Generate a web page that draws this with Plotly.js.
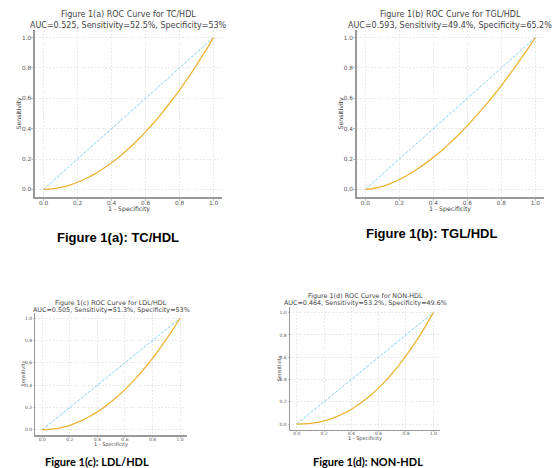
<!DOCTYPE html>
<html>
<head>
<meta charset="utf-8">
<script src="https://cdn.plot.ly/plotly-3.0.1.min.js"></script>
<style>html,body{margin:0;padding:0;background:#fff;}#chart{width:552px;height:468px;}</style>
</head>
<body>
<div id="chart"></div>
<script>
// ---- data ----
const fpr = [0, 0.05, 0.1, 0.15, 0.2, 0.25, 0.3, 0.35, 0.4, 0.45, 0.5, 0.55, 0.6, 0.65, 0.7, 0.75, 0.8, 0.85, 0.9, 0.95, 1];
const tprTC  = [0, 0.003, 0.013, 0.027, 0.047, 0.072, 0.101, 0.136, 0.175, 0.219, 0.268, 0.321, 0.379, 0.441, 0.508, 0.579, 0.654, 0.734, 0.819, 0.907, 1];
const tprTGL = [0, 0.006, 0.020, 0.040, 0.065, 0.095, 0.129, 0.168, 0.211, 0.257, 0.308, 0.362, 0.420, 0.481, 0.545, 0.613, 0.684, 0.759, 0.836, 0.916, 1];
const tprLDL = [0, 0.003, 0.010, 0.023, 0.040, 0.063, 0.090, 0.123, 0.160, 0.203, 0.250, 0.303, 0.360, 0.423, 0.490, 0.563, 0.640, 0.723, 0.810, 0.903, 1];
const tprNON = [0, 0.001, 0.006, 0.015, 0.029, 0.047, 0.071, 0.099, 0.133, 0.173, 0.218, 0.268, 0.325, 0.388, 0.456, 0.531, 0.612, 0.699, 0.793, 0.893, 1];
const chanceX = [0, 1];
const chanceY = [0, 1];
const panelTitles = ["Figure 1(a) ROC Curve for TC/HDL", "Figure 1(b) ROC Curve for TGL/HDL", "Figure 1(c) ROC Curve for LDL/HDL", "Figure 1(d) ROC Curve for NON-HDL"];
const panelStats = ["AUC=0.525, Sensitivity=52.5%, Specificity=53%", "AUC=0.593, Sensitivity=49.4%, Specificity=65.2%", "AUC=0.505, Sensitivity=51.3%, Specificity=53%", "AUC=0.464, Sensitivity=53.2%, Specificity=49.6%"];
const captions = ["Figure 1(a): TC/HDL", "Figure 1(b): TGL/HDL", "Figure 1(c): LDL/HDL", "Figure 1(d): NON-HDL"];
const tickVals = [0, 0.2, 0.4, 0.6, 0.8, 1.0];
const xLabel = "1 - Specificity";
const yLabel = "Sensitivity";

// ---- layout helpers ----
const W = 552, H = 468;
const px = v => v / W;
const py = v => 1 - v / H;

// panel boxes in pixels: [left, right, top, bottom]
const boxes = [
  [35, 222, 30, 197],
  [356.8, 543.8, 30, 197],
  [35.4, 186.9, 312.7, 435.3],
  [289.9, 440.1, 307.1, 429.6]
];
const tprs = [tprTC, tprTGL, tprLDL, tprNON];
const big = [true, true, false, false];

const traces = [];
const layout = {
  width: W, height: H,
  margin: {l: 0, r: 0, t: 0, b: 0},
  paper_bgcolor: '#fff', plot_bgcolor: '#fff',
  showlegend: false,
  font: {family: 'DejaVu Sans', color: '#444'},
  annotations: []
};

// text placement per panel: title lines y, x-label y, y-label x, caption
const titleY = [[15, 25], [15, 25], [302.7, 309.6], [296, 303.3]];
const xLabY = [209, 209, 444.5, 438.8];
const yLabX = [18, 340, 22.5, 279];
const capPos = [[118, 237], [431.5, 233.5], [96.5, 461], [367.7, 461.5]];
const capFont = [
  {family: 'Liberation Sans, Arial', size: 13, color: '#000', weight: 700},
  {family: 'Liberation Sans, Arial', size: 13, color: '#000', weight: 700},
  {family: 'Lato, Open Sans', size: 11, color: '#000', weight: 700},
  {family: 'Lato, Open Sans', size: 11, color: '#000', weight: 700}
];

boxes.forEach((b, i) => {
  const n = i === 0 ? '' : String(i + 1);
  const xa = 'x' + n, ya = 'y' + n;
  const tickSize = big[i] ? 5.8 : 4.5;
  const common = {
    range: [-0.05, 1.05], tickvals: tickVals, tickformat: '.1f',
    showgrid: true, gridcolor: '#e4e4e4', griddash: '2px,1.5px', gridwidth: 0.8,
    zeroline: false, showline: true, linecolor: '#999', linewidth: big[i] ? 1.6 : 1.3,
    ticks: 'outside', ticklen: big[i] ? 2 : 1, tickcolor: '#aaa', tickwidth: 0.7,
    tickfont: {family: 'DejaVu Sans', size: tickSize, color: '#555'},
    fixedrange: true
  };
  layout['xaxis' + n] = Object.assign({}, common, {domain: [px(b[0]), px(b[1])], anchor: ya,
    ticklabelstandoff: big[i] ? -3 : -2});
  layout['yaxis' + n] = Object.assign({}, common, {domain: [py(b[3]), py(b[2])], anchor: xa,
    ticklabelstandoff: big[i] ? -1 : 0});

  traces.push({x: chanceX, y: chanceY, xaxis: xa, yaxis: ya, mode: 'lines',
    line: {color: '#87CEEB', width: 1, dash: '3px,1.5px'}, hoverinfo: 'skip'});
  traces.push({x: fpr, y: tprs[i], xaxis: xa, yaxis: ya, mode: 'lines',
    line: {color: '#ECB335', width: 1.3, shape: 'spline'}, hoverinfo: 'skip'});

  const cx = (b[0] + b[1]) / 2;
  const tSize = big[i] ? 8 : 6.4;
  const lSize = big[i] ? 6.2 : 5;
  layout.annotations.push({text: panelTitles[i], x: px(cx), y: py(titleY[i][0]), xref: 'paper', yref: 'paper',
    showarrow: false, xanchor: 'center', yanchor: 'middle', font: {size: tSize, color: '#444'}});
  layout.annotations.push({text: panelStats[i], x: px(cx), y: py(titleY[i][1]), xref: 'paper', yref: 'paper',
    showarrow: false, xanchor: 'center', yanchor: 'middle', font: {size: tSize, color: '#444'}});
  layout.annotations.push({text: xLabel, x: px(cx), y: py(xLabY[i]), xref: 'paper', yref: 'paper',
    showarrow: false, xanchor: 'center', yanchor: 'middle', font: {size: lSize, color: '#444'}});
  layout.annotations.push({text: yLabel, x: px(yLabX[i]), y: py((b[2] + b[3]) / 2), xref: 'paper', yref: 'paper',
    showarrow: false, xanchor: 'center', yanchor: 'middle', textangle: -90, font: {size: lSize, color: '#444'}});
  layout.annotations.push({text: captions[i], x: px(capPos[i][0]), y: py(capPos[i][1]), xref: 'paper', yref: 'paper',
    showarrow: false, xanchor: 'center', yanchor: 'middle', font: capFont[i]});
});

Plotly.newPlot('chart', traces, layout, {staticPlot: true, displayModeBar: false});
</script>
</body>
</html>
